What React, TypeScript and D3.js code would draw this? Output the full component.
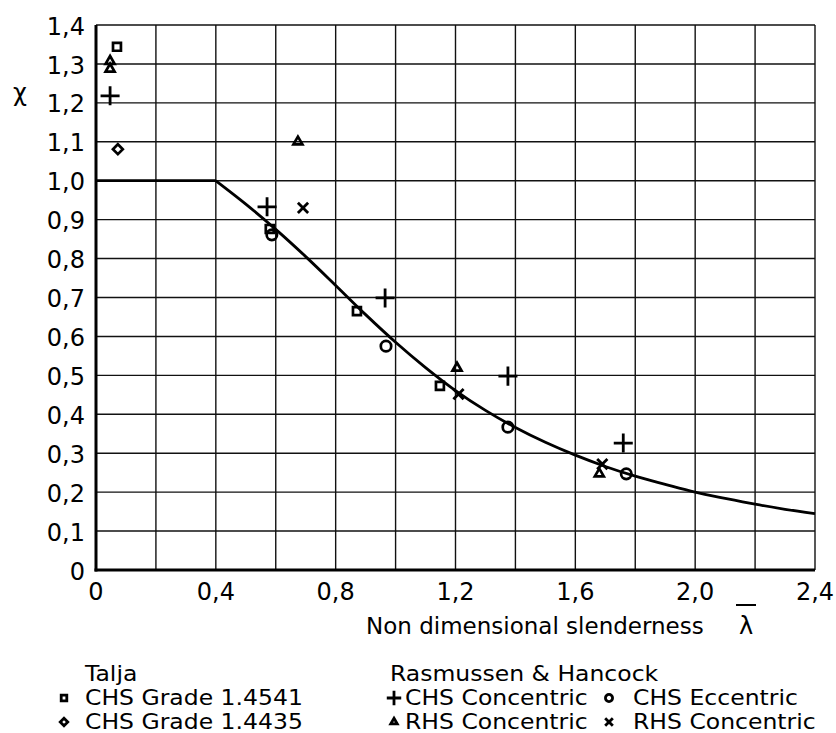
import React, { useEffect, useRef } from 'react';
import * as d3 from 'd3';

// design curve
const curveLambda = [0, 0.4, 0.5, 0.6, 0.7, 0.8, 0.9, 1.0, 1.1, 1.2, 1.3, 1.4, 1.5, 1.6, 1.7, 1.8, 1.9, 2.0, 2.1, 2.2, 2.3, 2.4];
const curveChi = [1.0, 1.0, 0.94, 0.875, 0.805, 0.731, 0.656, 0.585, 0.52, 0.461, 0.41, 0.366, 0.328, 0.295, 0.266, 0.241, 0.22, 0.2, 0.184, 0.169, 0.156, 0.145];

// test series
const talja1x = [0.07, 0.58, 0.871, 1.148];
const talja1y = [1.344, 0.876, 0.665, 0.473];
const talja2x = [0.073];
const talja2y = [1.081];
const chsConcX = [0.047, 0.571, 0.965, 1.375, 1.76];
const chsConcY = [1.218, 0.933, 0.699, 0.498, 0.326];
const chsEccX = [0.587, 0.968, 1.375, 1.77];
const chsEccY = [0.861, 0.575, 0.367, 0.247];
const rhsTriX = [0.047, 0.047, 0.674, 1.205, 1.68];
const rhsTriY = [1.307, 1.287, 1.10, 0.519, 0.247];
const rhsCrossX = [0.691, 1.21, 1.69];
const rhsCrossY = [0.93, 0.452, 0.272];

const xTicks = [0, 0.4, 0.8, 1.2, 1.6, 2.0, 2.4];
const yTicks = [0, 0.1, 0.2, 0.3, 0.4, 0.5, 0.6, 0.7, 0.8, 0.9, 1.0, 1.1, 1.2, 1.3, 1.4];

const fmt = (v: number) => (v === 0 ? '0' : v.toFixed(1).replace('.', ','));

export default function App() {
  const ref = useRef<SVGSVGElement>(null);

  useEffect(() => {
    const svg = d3.select(ref.current);
    svg.selectAll('*').remove();
    const font = 'DejaVu Sans, Verdana, sans-serif';

    const x = d3.scaleLinear().domain([0, 2.4]).range([96, 815]);
    const y = d3.scaleLinear().domain([0, 1.4]).range([570, 25]);

    // grid
    const grid = svg.append('g').attr('stroke', '#111').attr('stroke-width', 1.4);
    d3.range(0, 2.41, 0.2).forEach(v => {
      grid.append('line').attr('x1', x(v)).attr('x2', x(v)).attr('y1', y(0)).attr('y2', y(1.4));
    });
    d3.range(0, 1.41, 0.1).forEach(v => {
      grid.append('line').attr('x1', x(0)).attr('x2', x(2.4)).attr('y1', y(v)).attr('y2', y(v));
    });
    // heavier axes
    svg.append('line').attr('x1', x(0)).attr('x2', x(0)).attr('y1', y(0) + 1.5).attr('y2', y(1.4))
      .attr('stroke', '#000').attr('stroke-width', 3);
    svg.append('line').attr('x1', x(0) - 1.5).attr('x2', x(2.4)).attr('y1', y(0)).attr('y2', y(0))
      .attr('stroke', '#000').attr('stroke-width', 3);

    // tick labels
    svg.append('g').selectAll('text').data(yTicks).enter().append('text')
      .attr('x', 85).attr('y', d => y(d)).attr('dy', '0.4em')
      .attr('text-anchor', 'end').attr('font-family', font).attr('font-size', 24)
      .text(d => fmt(d));
    svg.append('g').selectAll('text').data(xTicks).enter().append('text')
      .attr('x', d => x(d)).attr('y', 600)
      .attr('text-anchor', 'middle').attr('font-family', font).attr('font-size', 24)
      .text(d => fmt(d));

    // axis titles
    svg.append('text').attr('x', 20).attr('y', 101).attr('text-anchor', 'middle')
      .attr('font-family', font).attr('font-size', 24).text('χ');
    svg.append('text').attr('x', 366).attr('y', 634)
      .attr('font-family', font).attr('font-size', 23).text('Non dimensional slenderness');
    svg.append('text').attr('x', 746).attr('y', 634).attr('text-anchor', 'middle')
      .attr('font-family', font).attr('font-size', 24).text('λ');
    svg.append('line').attr('x1', 736).attr('x2', 756).attr('y1', 605).attr('y2', 605)
      .attr('stroke', '#000').attr('stroke-width', 2);

    // curve
    const flat = curveLambda.slice(0, 2).map((l, i) => [l, curveChi[i]] as [number, number]);
    const rest = curveLambda.slice(1).map((l, i) => [l, curveChi[i + 1]] as [number, number]);
    svg.append('path').attr('d', d3.line().x(d => x(d[0])).y(d => y(d[1]))(flat))
      .attr('fill', 'none').attr('stroke', '#000').attr('stroke-width', 2.8);
    svg.append('path')
      .attr('d', d3.line().x(d => x(d[0])).y(d => y(d[1])).curve(d3.curveMonotoneX)(rest))
      .attr('fill', 'none').attr('stroke', '#000').attr('stroke-width', 2.8);

    // markers
    const series = [
      { xs: talja1x, ys: talja1y, type: d3.symbolSquare2, size: 80, sw: 2.7 },
      { xs: talja2x, ys: talja2y, type: d3.symbolDiamond2, size: 62, sw: 2.7 },
      { xs: chsConcX, ys: chsConcY, type: d3.symbolPlus, size: 120, sw: 2.8 },
      { xs: chsEccX, ys: chsEccY, type: d3.symbolCircle, size: 85, sw: 2.7 },
      { xs: rhsTriX, ys: rhsTriY, type: d3.symbolTriangle2, size: 58, sw: 2.7 },
      { xs: rhsCrossX, ys: rhsCrossY, type: d3.symbolTimes, size: 70, sw: 2.8 },
    ];
    series.forEach(s => {
      svg.append('g').selectAll('path').data(s.xs).enter().append('path')
        .attr('transform', (d, i) => 'translate(' + x(d) + ',' + y(s.ys[i]) + ')')
        .attr('d', d3.symbol().type(s.type).size(s.size)() as string)
        .attr('fill', 'none').attr('stroke', '#000').attr('stroke-width', s.sw);
    });

    // legend
    const leg = svg.append('g').attr('font-family', font).attr('font-size', 21);
    const label = (tx: number, ty: number, t: string) => {
      leg.append('text').attr('transform', 'translate(' + tx + ',' + ty + ') scale(1.12,1)').text(t);
    };
    label(85, 681, 'Talja');
    label(390, 681, 'Rasmussen & Hancock');
    const items = [
      { mx: 64, tx: 85, row: 705, type: d3.symbolSquare2, size: 40, label: 'CHS Grade 1.4541' },
      { mx: 64, tx: 85, row: 729, type: d3.symbolDiamond2, size: 36, label: 'CHS Grade 1.4435' },
      { mx: 394, tx: 405, row: 705, type: d3.symbolPlus, size: 70, label: 'CHS Concentric' },
      { mx: 394, tx: 405, row: 729, type: d3.symbolTriangle2, size: 30, label: 'RHS Concentric' },
      { mx: 609, tx: 633, row: 705, type: d3.symbolCircle, size: 40, label: 'CHS Eccentric' },
      { mx: 609, tx: 633, row: 729, type: d3.symbolTimes, size: 40, label: 'RHS Concentric' },
    ];
    items.forEach(it => {
      leg.append('path').attr('transform', 'translate(' + it.mx + ',' + (it.row - 7) + ')')
        .attr('d', d3.symbol().type(it.type).size(it.size)() as string)
        .attr('fill', 'none').attr('stroke', '#000').attr('stroke-width', 2.8);
      label(it.tx, it.row, it.label);
    });
  }, []);

  return (
    <svg ref={ref} width={836} height={733}
      style={{ position: 'absolute', left: 0, top: 0, background: '#fff' }} />
  );
}
